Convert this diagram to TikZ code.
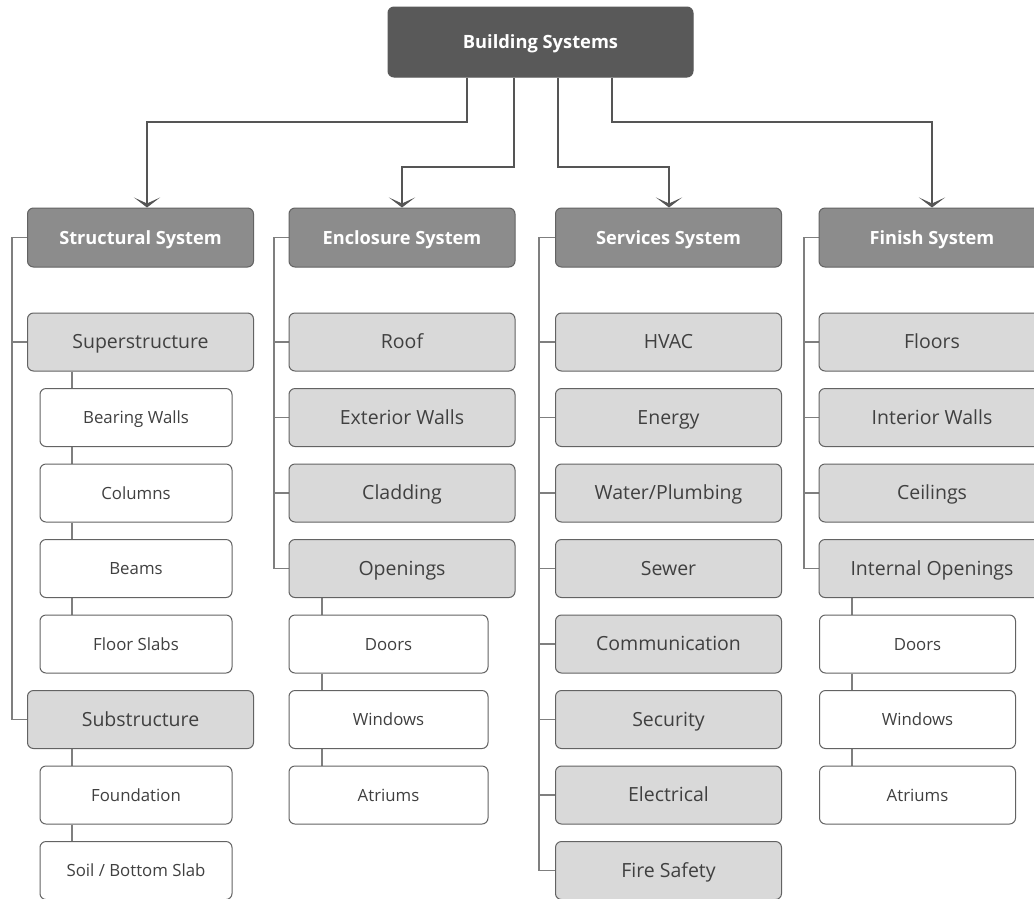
\documentclass[tikz,border=0pt]{standalone}
\usepackage{fontspec}
\setmainfont{Open Sans}
\usetikzlibrary{arrows.meta,calc}
\pgfdeclarelayer{background}
\pgfdeclarelayer{canvas}
\pgfsetlayers{canvas,background,main}
\definecolor{topfill}{HTML}{595959}
\definecolor{midfill}{HTML}{8C8C8C}
\definecolor{lightfill}{HTML}{D9D9D9}
\definecolor{edge}{HTML}{636363}
\definecolor{txt}{HTML}{404040}
\definecolor{conn}{HTML}{7F7F7F}
\definecolor{arrc}{HTML}{555555}
\tikzset{
  box/.style={rounded corners=6pt, draw=edge, line width=1pt, minimum height=58pt, inner sep=0pt, anchor=center, text depth=0pt},
  topbox/.style={box, fill=topfill, draw=topfill, text=white, font=\fontsize{18.3}{21}\selectfont\bfseries, minimum width=305pt, minimum height=70pt, text height=13.1pt},
  sysbox/.style={box, fill=midfill, text=white, font=\fontsize{18.2}{21}\selectfont\bfseries, minimum width=226pt, minimum height=59pt, text height=13pt},
  subbox/.style={box, fill=lightfill, text=txt, font=\fontsize{19.5}{22}\selectfont, minimum width=226pt, text height=13.9pt},
  leafbox/.style={box, fill=white, text=txt, font=\fontsize{16.8}{19}\selectfont, text height=12pt},
  arr/.style={draw=arrc, line width=2pt, -{Stealth[length=10pt,width=26pt,inset=6pt]}},
  conline/.style={draw=conn, line width=1.2pt}
}
\begin{document}
\begin{tikzpicture}[x=1pt,y=-1pt]
\clip (0,0) rectangle (1034,898);
\begin{pgfonlayer}{canvas}
\fill[white] (0,0) rectangle (1034,898);
\end{pgfonlayer}
% top
\node[topbox] (top) at (540.5,42) {Building Systems};
% level 1
\node[sysbox] (s) at (140.5,237.5) {Structural System};
\node[sysbox] (e) at (402,237.5) {Enclosure System};
\node[sysbox] (v) at (668.5,237.5) {Services System};
\node[sysbox] (f) at (932,237.5) {Finish System};
% structural
\node[subbox] (s1) at (140.5,342) {Superstructure};
\node[leafbox, minimum width=192pt] (s11) at (136,417.5) {Bearing Walls};
\node[leafbox, minimum width=192pt] (s12) at (136,493) {Columns};
\node[leafbox, minimum width=192pt] (s13) at (136,568.5) {Beams};
\node[leafbox, minimum width=192pt] (s14) at (136,644) {Floor Slabs};
\node[subbox] (s2) at (140.5,719.5) {Substructure};
\node[leafbox, minimum width=192pt] (s21) at (136,795) {Foundation};
\node[leafbox, minimum width=192pt] (s22) at (136,870.5) {Soil / Bottom Slab};
% enclosure
\node[subbox] (e1) at (402,342) {Roof};
\node[subbox] (e2) at (402,417.5) {Exterior Walls};
\node[subbox] (e3) at (402,493) {Cladding};
\node[subbox] (e4) at (402,568.5) {Openings};
\node[leafbox, minimum width=199pt] (e41) at (388.5,644) {Doors};
\node[leafbox, minimum width=199pt] (e42) at (388.5,719.5) {Windows};
\node[leafbox, minimum width=199pt] (e43) at (388.5,795) {Atriums};
% services
\node[subbox] (v1) at (668.5,342) {HVAC};
\node[subbox] (v2) at (668.5,417.5) {Energy};
\node[subbox] (v3) at (668.5,493) {Water/Plumbing};
\node[subbox] (v4) at (668.5,568.5) {Sewer};
\node[subbox] (v5) at (668.5,644) {Communication};
\node[subbox] (v6) at (668.5,719.5) {Security};
\node[subbox] (v7) at (668.5,795) {Electrical};
\node[subbox] (v8) at (668.5,870.5) {Fire Safety};
% finish
\node[subbox] (f1) at (932,342) {Floors};
\node[subbox] (f2) at (932,417.5) {Interior Walls};
\node[subbox] (f3) at (932,493) {Ceilings};
\node[subbox] (f4) at (932,568.5) {Internal Openings};
\node[leafbox, minimum width=196pt] (f41) at (917.5,644) {Doors};
\node[leafbox, minimum width=196pt] (f42) at (917.5,719.5) {Windows};
\node[leafbox, minimum width=196pt] (f43) at (917.5,795) {Atriums};
\begin{pgfonlayer}{background}
% arrows from top
\draw[arr] (top.south -| 467,0) -- (467,122) -| (s.north -| 147,0);
\draw[arr] (top.south -| 514,0) -- (514,167) -| (e.north);
\draw[arr] (top.south -| 558,0) -- (558,167) -| (v.north -| 669,0);
\draw[arr] (top.south -| 612,0) -- (612,122) -| (f.north);
% structural tree
\draw[conline] (s.west) -| (12,0 |- s2.west) -- (s2.west);
\draw[conline] (s1.west -| 12,0) -- (s1.west);
\draw[conline] (s1.south -| 72,0) -- (s11.north -| 72,0);
\draw[conline] (s11.south -| 72,0) -- (s12.north -| 72,0);
\draw[conline] (s12.south -| 72,0) -- (s13.north -| 72,0);
\draw[conline] (s13.south -| 72,0) -- (s14.north -| 72,0);
\draw[conline] (s2.south -| 72,0) -- (s21.north -| 72,0);
\draw[conline] (s21.south -| 72,0) -- (s22.north -| 72,0);
% enclosure tree
\draw[conline] (e.west) -| (274,0 |- e4.west) -- (e4.west);
\foreach \n in {e1,e2,e3} \draw[conline] (\n.west -| 274,0) -- (\n.west);
\draw[conline] (e4.south -| 322,0) -- (e41.north -| 322,0);
\draw[conline] (e41.south -| 322,0) -- (e42.north -| 322,0);
\draw[conline] (e42.south -| 322,0) -- (e43.north -| 322,0);
% services tree
\draw[conline] (v.west) -| (539,0 |- v8.west) -- (v8.west);
\foreach \n in {v1,v2,v3,v4,v5,v6,v7} \draw[conline] (\n.west -| 539,0) -- (\n.west);
% finish tree
\draw[conline] (f.west) -| (804,0 |- f4.west) -- (f4.west);
\foreach \n in {f1,f2,f3} \draw[conline] (\n.west -| 804,0) -- (\n.west);
\draw[conline] (f4.south -| 852,0) -- (f41.north -| 852,0);
\draw[conline] (f41.south -| 852,0) -- (f42.north -| 852,0);
\draw[conline] (f42.south -| 852,0) -- (f43.north -| 852,0);
\end{pgfonlayer}
\end{tikzpicture}
\end{document}
